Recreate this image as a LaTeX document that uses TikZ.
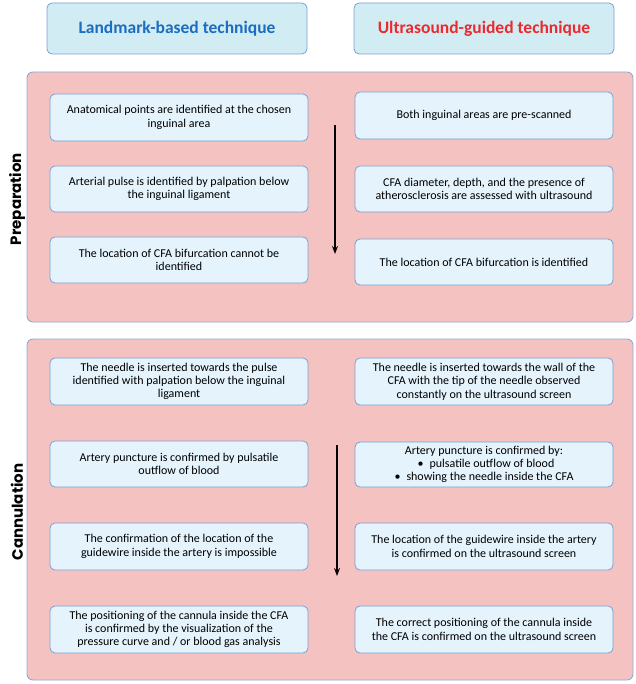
\documentclass[tikz,border=0pt]{standalone}
\usepackage{fontspec}
\setmainfont{Carlito}
\newfontfamily\sidefont{Poppins}
\usetikzlibrary{arrows.meta}
\definecolor{hdrfill}{HTML}{D2ECF3}
\definecolor{hdrdraw}{HTML}{7C9FD6}
\definecolor{boxfill}{HTML}{E4F3FC}
\definecolor{boxdraw}{HTML}{7C9FD6}
\definecolor{pinkfill}{HTML}{F4C2C0}
\definecolor{pinkdraw}{HTML}{8EA9DA}
\definecolor{lmblue}{HTML}{1A6DC0}
\definecolor{usred}{HTML}{EC2A2E}
\tikzset{
  hdr/.style={draw=hdrdraw, fill=hdrfill, line width=0.8pt, rounded corners=5pt},
  phase/.style={draw=pinkdraw, fill=pinkfill, line width=0.9pt, rounded corners=6pt},
  stepbox/.style={draw=boxdraw, fill=boxfill, line width=0.8pt, rounded corners=5pt},
  txt/.style={align=center, font=\fontsize{12}{13.3}\selectfont, text=black},
  hdrtxt/.style={font=\fontsize{17.5}{20}\selectfont\bfseries},
  side/.style={font=\fontsize{15}{18}\sidefont\bfseries, rotate=90},
  flow/.style={line width=1.4pt, -{Stealth[length=8pt,width=6pt]}}
}
\begin{document}
\begin{tikzpicture}[x=1pt,y=-1pt]
\useasboundingbox (0,0) rectangle (635,684);
% headers
\draw[hdr] (47,3) rectangle (307,54);
\node[hdrtxt, text=lmblue] (hl) at (177,28.5) {Landmark-based technique};
\draw[hdr] (354,3) rectangle (614,54);
\node[hdrtxt, text=usred] (hr) at (484,28.5) {Ultrasound-guided technique};
% phase panels
\draw[phase] (27,72) rectangle (633,322);
\draw[phase] (27,339) rectangle (633,680);
\node[side] (sp) at (17,199) {Preparation};
\node[side] (sc) at (17,512) {Cannulation};
% preparation left
\draw[stepbox] (50,94) rectangle (308,141);
\node[txt] (p1) at (179,117.5) {Anatomical points are identified at the chosen\\inguinal area};
\draw[stepbox] (50,166) rectangle (308,212);
\node[txt] (p2) at (179,189) {Arterial pulse is identified by palpation below\\the inguinal ligament};
\draw[stepbox] (50,237) rectangle (308,283);
\node[txt] (p3) at (179,260) {The location of CFA bifurcation cannot be\\identified};
% preparation right
\draw[stepbox] (355,92) rectangle (613,139);
\node[txt] (q1) at (484,115.5) {Both inguinal areas are pre-scanned};
\draw[stepbox] (355,166) rectangle (613,212);
\node[txt] (q2) at (484,189) {CFA diameter, depth, and the presence of\\atherosclerosis are assessed with ultrasound};
\draw[stepbox] (355,239) rectangle (613,285);
\node[txt] (q3) at (484,262) {The location of CFA bifurcation is identified};
% cannulation left
\draw[stepbox] (50,358) rectangle (308,405);
\node[txt] (c1) at (179,381.5) {The needle is inserted towards the pulse\\identified with palpation below the inguinal\\ligament};
\draw[stepbox] (50,441) rectangle (308,487);
\node[txt] (c2) at (179,464) {Artery puncture is confirmed by pulsatile\\outflow of blood};
\draw[stepbox] (50,523) rectangle (308,570);
\node[txt] (c3) at (179,546.5) {The confirmation of the location of the\\guidewire inside the artery is impossible};
\draw[stepbox] (50,606) rectangle (308,653);
\node[txt] (c4) at (179,629.5) {The positioning of the cannula inside the CFA\\is confirmed by the visualization of the\\pressure curve and / or blood gas analysis};
% cannulation right
\draw[stepbox] (355,358) rectangle (613,405);
\node[txt] (d1) at (484,381.5) {The needle is inserted towards the wall of the\\CFA with the tip of the needle observed\\constantly on the ultrasound screen};
\draw[stepbox] (355,442) rectangle (613,487);
\node[txt] (d2) at (484,464.5) {Artery puncture is confirmed by:\\\hspace*{4pt}\textbullet\enspace pulsatile outflow of blood\\\textbullet\enspace showing the needle inside the CFA};
\draw[stepbox] (355,523) rectangle (613,570);
\node[txt] (d3) at (484,546.5) {The location of the guidewire inside the artery\\is confirmed on the ultrasound screen};
\draw[stepbox] (355,606) rectangle (613,653);
\node[txt] (d4) at (484,629.5) {The correct positioning of the cannula inside\\the CFA is confirmed on the ultrasound screen};
% flow arrows
\coordinate (a1s) at (335,125);
\coordinate (a1e) at (335,254);
\coordinate (a2s) at (337,445);
\coordinate (a2e) at (337,576);
\draw[flow] (a1s) -- (a1e);
\draw[flow] (a2s) -- (a2e);
\end{tikzpicture}
\end{document}
